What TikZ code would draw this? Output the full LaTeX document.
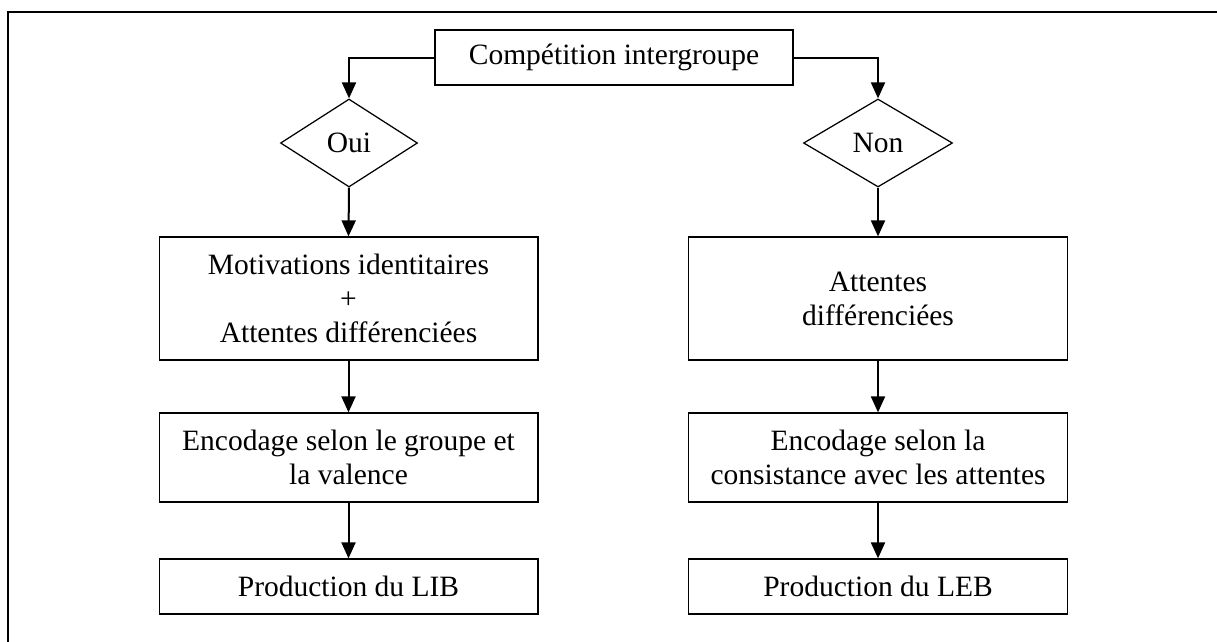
\documentclass[tikz,border=0pt]{standalone}
\usepackage{fontspec}
\setmainfont{Liberation Serif}
\usetikzlibrary{shapes.geometric,arrows.meta}

\begin{document}
\begin{tikzpicture}[x=0.4pt,y=-0.4pt]
	\tikzstyle{every node}=[font=\fontsize{11.8}{13.6}\selectfont]
	\tikzstyle{box}=[draw, line width=0.5pt, align=center, inner sep=0pt, minimum width=151.5pt]
	\tikzstyle{choice}=[draw, diamond, line width=0.5pt, inner sep=0pt, minimum height=35.2pt]
	\tikzstyle{flow}=[line width=0.8pt, -{Triangle[length=6.4pt,width=5.6pt]}]

	\useasboundingbox (0,0) rectangle (1217,641);
	\draw [line width=0.5pt] (8,12) rectangle (1240,665); % cadre

	\node [box, minimum width=143.2pt, minimum height=22pt] (comp) at (614,57.5) {Compétition intergroupe};

	\node [choice, minimum width=54.8pt] (oui) at (349,143) {Oui};
	\node [choice, minimum width=59.6pt] (non) at (878,143) {Non};

	% cote oui
	\node [box, minimum height=49.2pt] (motiv) at (348.5,298.5) {Motivations identitaires\\+\\Attentes différenciées};
	\node [box, minimum height=35.6pt] (encgrp) at (348.5,457.5) {Encodage selon le groupe et\\la valence};
	\node [box, minimum height=22pt] (lib) at (348.5,586.5) {Production du LIB};

	% cote non
	\node [box, minimum height=49.2pt] (attent) at (878,298.5) {Attentes\\différenciées};
	\node [box, minimum height=35.6pt] (enccons) at (878,457.5) {Encodage selon la\\consistance avec les attentes};
	\node [box, minimum height=22pt] (leb) at (878,586.5) {Production du LEB};

	\draw [flow] (comp.west) -| (oui.north);
	\draw [flow] (comp.east) -| (non.north);
	\draw [flow] (oui.south) -- (motiv.north);
	\draw [flow] (non.south) -- (attent.north);
	\draw [flow] (motiv.south) -- (encgrp.north);
	\draw [flow] (attent.south) -- (enccons.north);
	\draw [flow] (encgrp.south) -- (lib.north);
	\draw [flow] (enccons.south) -- (leb.north);
\end{tikzpicture}
\end{document}
